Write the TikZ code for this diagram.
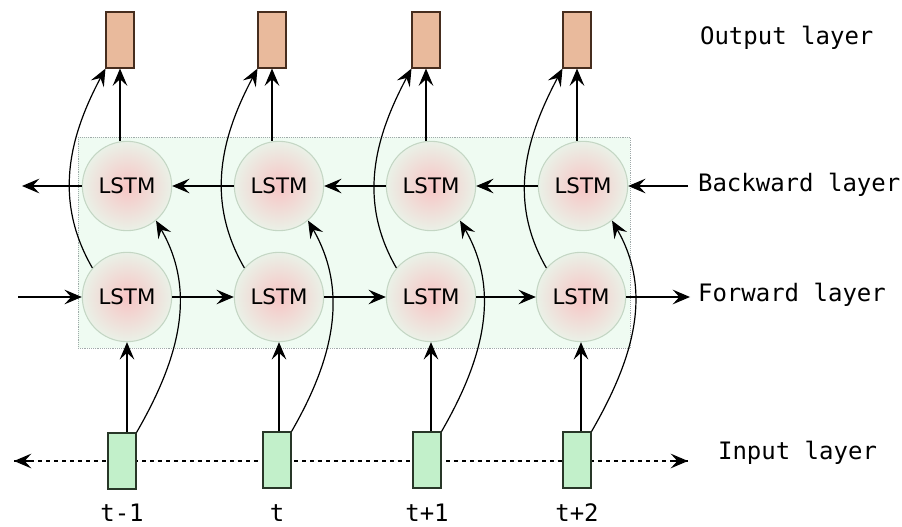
\documentclass[tikz,border=0pt]{standalone}
\usepackage{fontspec}
\setsansfont{DejaVu Sans}
\setmonofont{DejaVu Sans Mono}
\usepackage{tikz}
\usetikzlibrary{shapes,arrows.meta,positioning,calc}
\usepackage{xcolor}

\definecolor{cellcore}{RGB}{247,196,196}
\definecolor{cellrim}{RGB}{234,241,231}
\definecolor{celledge}{RGB}{196,214,196}
\definecolor{outfill}{RGB}{233,186,156}
\definecolor{outedge}{RGB}{70,45,30}
\definecolor{infill}{RGB}{194,240,202}
\definecolor{inedge}{RGB}{40,55,40}
\definecolor{bgfill}{RGB}{239,251,242}
\definecolor{bgedge}{RGB}{160,170,170}

\tikzset{
  bigtip/.tip={Stealth[length=13pt,width=11pt,inset=5pt]},
  link/.style={-bigtip,line width=0.9pt},
}

\begin{document}
\begin{tikzpicture}[x=0.75pt,y=-0.75pt,link]
		
		% Styles for the cells and boxes
		\tikzstyle{lstm}=[circle,thick,draw=celledge,shading=radial,inner color=cellcore,outer color=cellrim,minimum size=67pt,inner sep=0pt,font=\sffamily\fontsize{16}{18}\selectfont]
		\tikzstyle{output unit}=[rectangle,thick,draw=outedge,fill=outfill,minimum width=21pt,minimum height=42pt,inner sep=0pt]
		\tikzstyle{input unit}=[rectangle,thick,draw=inedge,fill=infill,minimum width=21pt,minimum height=42pt,inner sep=0pt]
		\tikzstyle{layer label}=[font=\ttfamily\fontsize{18}{20}\selectfont,anchor=west]
		\tikzstyle{time label}=[font=\ttfamily\fontsize{18}{20}\selectfont]
		
		\useasboundingbox (0,0) rectangle (902,527);
		
		% Shaded area behind the two hidden layers
		\draw[-,fill=bgfill,draw=bgedge,densely dotted,thin] (78,137) rectangle (630,348);
		
		% Free ends of the outer arrows
		\coordinate (fin) at (18,297);
		\coordinate (fout) at (690,297);
		\coordinate (bin) at (688,186);
		\coordinate (bout) at (22,186);
		\coordinate (ileft) at (14,461);
		\coordinate (iright) at (688,461);
		
		% Input sequence line (behind the input boxes), solid tips at both ends
		\draw[-,dashed] (ileft) -- (iright);
		\draw[bigtip-] (ileft) -- ($(ileft)+(18,0)$);
		\draw[-bigtip] ($(iright)-(18,0)$) -- (iright);
		
		% Nodes for the output layer
		\node[output unit] (o1) at (120,40) {};
		\node[output unit] (o2) at (272,40) {};
		\node[output unit] (o3) at (426,40) {};
		\node[output unit] (o4) at (577,40) {};
		
		% Nodes for the backward layer
		\node[lstm] (b1) at (127,186) {LSTM};
		\node[lstm] (b2) at (279,186) {LSTM};
		\node[lstm] (b3) at (431,186) {LSTM};
		\node[lstm] (b4) at (583,186) {LSTM};
		
		% Nodes for the forward layer
		\node[lstm] (f1) at (127,297) {LSTM};
		\node[lstm] (f2) at (279,297) {LSTM};
		\node[lstm] (f3) at (431,297) {LSTM};
		\node[lstm] (f4) at (581,297) {LSTM};
		
		% Nodes for the input layer
		\node[input unit] (i1) at (122,461) {};
		\node[input unit] (i2) at (277,460) {};
		\node[input unit] (i3) at (427,460) {};
		\node[input unit] (i4) at (577,460) {};
		
		% Time steps
		\node[time label] (t1) at (122,513) {t-1};
		\node[time label] (t2) at (277,513) {t};
		\node[time label] (t3) at (427,513) {t+1};
		\node[time label] (t4) at (577,513) {t+2};
		
		% Layer names
		\node[layer label] (lo) at (695,38) {Output layer};
		\node[layer label] (lb) at (693,185) {Backward layer};
		\node[layer label] (lf) at (693,295) {Forward layer};
		\node[layer label] (li) at (713,453) {Input layer};
		
		% Transitions
		\path
		% forward chain
		(fin) edge (f1)
		(f1) edge (f2)
		(f2) edge (f3)
		(f3) edge (f4)
		(f4) edge (fout)
		
		% backward chain
		(bin) edge (b4)
		(b4) edge (b3)
		(b3) edge (b2)
		(b2) edge (b1)
		(b1) edge (bout)
		
		% input to forward cell
		(i1.north-|f1) edge (f1)
		(i2.north-|f2) edge (f2)
		(i3.north-|f3) edge (f3)
		(i4.north-|f4) edge (f4)
		
		% input to backward cell
		(i1.north east) edge[out=60,in=-60] (b1.-50)
		(i2.north east) edge[out=60,in=-60] (b2.-50)
		(i3.north east) edge[out=60,in=-60] (b3.-50)
		(i4.north east) edge[out=60,in=-60] (b4.-50)
		
		% backward cell to output
		(b1.north-|o1) edge (o1)
		(b2.north-|o2) edge (o2)
		(b3.north-|o3) edge (o3)
		(b4.north-|o4) edge (o4)
		
		% forward cell to output
		(f1.140) edge[out=120,in=-118] (o1.south west)
		(f2.140) edge[out=120,in=-118] (o2.south west)
		(f3.140) edge[out=120,in=-118] (o3.south west)
		(f4.140) edge[out=120,in=-118] (o4.south west);
		
	\end{tikzpicture}
\end{document}
